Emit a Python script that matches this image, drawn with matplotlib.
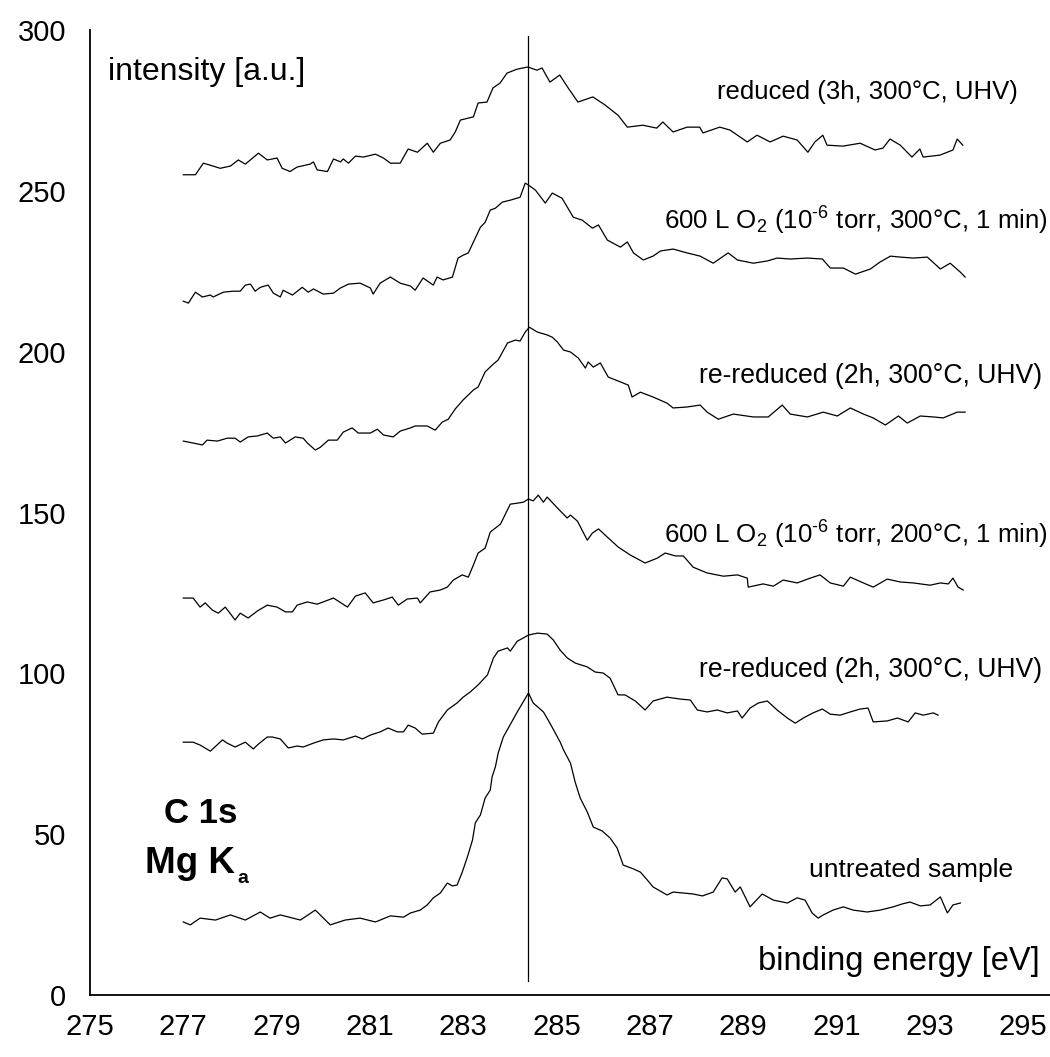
import matplotlib
matplotlib.use("Agg")
import matplotlib.pyplot as plt

plt.rcParams['font.family'] = ['Liberation Sans', 'DejaVu Sans']
plt.rcParams['mathtext.fontset'] = 'custom'
plt.rcParams['mathtext.rm'] = 'Liberation Sans'
plt.rcParams['mathtext.it'] = 'Liberation Sans:italic'
plt.rcParams['mathtext.bf'] = 'Liberation Sans:bold'

# ---------------- data (binding energy [eV], intensity [a.u.]) ----------------
e_reduced = [277.00, 277.26, 277.43, 277.64, 277.79, 278.01, 278.18, 278.33, 278.61, 278.80,
             279.01, 279.12, 279.29, 279.44, 279.72, 279.79, 279.87, 280.09, 280.22, 280.37,
             280.43, 280.54, 280.69, 280.86, 281.12, 281.29, 281.44, 281.65, 281.82, 282.02,
             282.23, 282.36, 282.51, 282.72, 282.83, 282.94, 283.22, 283.32, 283.51, 283.64,
             283.79, 283.94, 284.15, 284.28, 284.39, 284.58, 284.69, 284.86, 285.07, 285.25,
             285.46, 285.78, 286.04, 286.32, 286.52, 286.85, 287.15, 287.28, 287.50, 287.80,
             288.07, 288.14, 288.50, 288.72, 289.09, 289.30, 289.58, 289.86, 290.16, 290.39,
             290.54, 290.71, 290.80, 291.14, 291.51, 291.83, 292.00, 292.15, 292.37, 292.62,
             292.79, 292.86, 293.22, 293.50, 293.59, 293.71]
i_reduced = [255.0, 255.0, 258.6, 257.7, 257.0, 257.7, 259.6, 258.3, 261.7, 259.6,
             260.2, 257.0, 256.0, 257.4, 258.3, 259.0, 256.5, 256.0, 259.9, 259.0,
             259.9, 258.6, 260.8, 260.5, 261.4, 260.2, 258.6, 258.6, 263.0, 262.0,
             264.8, 262.0, 264.8, 265.8, 268.3, 272.0, 273.0, 277.3, 277.6, 282.0,
             283.5, 286.6, 287.8, 288.2, 288.5, 287.5, 288.2, 283.8, 286.0, 282.0,
             277.6, 279.2, 276.7, 273.5, 269.8, 270.4, 269.5, 271.4, 268.3, 269.8,
             269.8, 268.0, 269.8, 268.9, 265.2, 267.3, 265.2, 267.0, 265.8, 262.0,
             265.2, 267.3, 264.2, 263.9, 264.8, 262.7, 263.3, 266.1, 264.2, 260.5,
             263.0, 260.5, 261.1, 262.7, 266.1, 264.2]

e_ox300 = [277.00, 277.11, 277.26, 277.41, 277.58, 277.64, 277.86, 278.07, 278.22, 278.33,
           278.44, 278.54, 278.65, 278.82, 278.93, 279.08, 279.14, 279.34, 279.55, 279.68,
           279.79, 280.00, 280.22, 280.37, 280.54, 280.79, 281.01, 281.07, 281.22, 281.44,
           281.65, 281.87, 281.97, 282.14, 282.36, 282.44, 282.57, 282.77, 282.89, 283.00,
           283.11, 283.22, 283.37, 283.47, 283.58, 283.69, 283.84, 284.01, 284.22, 284.33,
           284.40, 284.55, 284.76, 284.91, 285.12, 285.36, 285.55, 285.77, 285.90, 286.09,
           286.37, 286.52, 286.65, 286.86, 287.07, 287.23, 287.50, 287.80, 288.08, 288.36,
           288.68, 288.88, 289.22, 289.52, 289.73, 290.01, 290.38, 290.70, 290.87, 291.15,
           291.41, 291.73, 291.94, 292.16, 292.37, 292.65, 292.95, 293.23, 293.44, 293.66,
           293.76]
i_ox300 = [215.7, 215.1, 218.5, 217.0, 217.6, 217.0, 218.5, 218.8, 218.8, 220.7,
           221.0, 218.8, 220.0, 220.7, 218.2, 217.0, 219.1, 217.6, 220.0, 218.5,
           219.5, 217.9, 218.2, 219.8, 221.0, 221.3, 219.8, 217.9, 221.3, 223.2,
           221.3, 220.4, 219.1, 222.9, 220.7, 223.2, 222.3, 223.2, 229.1, 230.0,
           230.7, 234.1, 238.7, 240.2, 244.0, 244.6, 246.5, 247.1, 248.0, 252.4,
           251.8, 250.2, 246.2, 249.3, 247.7, 241.8, 240.9, 238.4, 239.4, 234.7,
           232.5, 234.1, 230.7, 228.5, 229.7, 231.3, 231.9, 230.7, 229.7, 227.5,
           230.7, 228.5, 227.5, 228.2, 229.1, 228.8, 229.1, 228.8, 226.0, 226.0,
           224.1, 225.7, 227.9, 229.7, 229.4, 229.1, 229.4, 225.7, 227.5, 224.7,
           223.2]

e_rered1 = [277.00, 277.21, 277.41, 277.51, 277.73, 277.94, 278.11, 278.22, 278.39, 278.59,
            278.80, 278.93, 279.08, 279.19, 279.40, 279.57, 279.66, 279.83, 279.94, 280.11,
            280.30, 280.43, 280.62, 280.75, 281.01, 281.16, 281.29, 281.50, 281.65, 281.87,
            281.97, 282.23, 282.40, 282.55, 282.68, 282.83, 283.00, 283.22, 283.32, 283.47,
            283.62, 283.75, 283.95, 284.12, 284.22, 284.33, 284.42, 284.59, 284.80, 284.91,
            285.02, 285.15, 285.30, 285.47, 285.62, 285.68, 285.79, 285.94, 286.11, 286.37,
            286.54, 286.62, 286.80, 287.07, 287.37, 287.50, 287.80, 288.08, 288.23, 288.47,
            288.79, 289.22, 289.54, 289.84, 290.01, 290.38, 290.72, 291.02, 291.30, 291.58,
            291.79, 292.05, 292.33, 292.52, 292.80, 293.08, 293.29, 293.59, 293.76]
i_rered1 = [172.2, 171.6, 171.0, 172.5, 172.2, 173.1, 173.1, 171.9, 173.5, 173.8,
            174.7, 173.1, 173.5, 171.6, 173.5, 173.1, 171.6, 169.4, 170.3, 172.5,
            172.5, 175.0, 176.3, 174.7, 174.7, 175.9, 174.1, 173.5, 175.3, 176.3,
            176.9, 176.9, 175.6, 178.1, 179.0, 182.2, 185.0, 188.1, 189.0, 193.7,
            195.8, 197.4, 202.7, 203.6, 203.3, 206.1, 207.6, 206.1, 205.2, 204.5,
            203.0, 200.5, 199.9, 198.0, 194.9, 196.8, 195.2, 196.5, 192.1, 190.6,
            189.6, 185.9, 187.4, 185.9, 184.0, 182.5, 182.8, 183.4, 181.2, 179.0,
            180.6, 179.7, 179.7, 183.4, 180.6, 179.7, 181.2, 180.0, 182.5, 180.6,
            179.4, 177.2, 180.0, 177.8, 180.0, 179.7, 179.4, 181.2, 181.2]

e_ox200 = [277.00, 277.21, 277.36, 277.47, 277.62, 277.75, 277.90, 278.11, 278.22, 278.39,
           278.59, 278.80, 279.01, 279.19, 279.34, 279.44, 279.66, 279.87, 280.22, 280.52,
           280.69, 280.90, 281.07, 281.29, 281.48, 281.61, 281.80, 282.02, 282.08, 282.29,
           282.51, 282.66, 282.79, 282.98, 283.11, 283.22, 283.32, 283.47, 283.58, 283.80,
           284.01, 284.16, 284.29, 284.40, 284.50, 284.61, 284.72, 284.80, 285.02, 285.23,
           285.30, 285.45, 285.66, 285.77, 285.90, 286.11, 286.32, 286.58, 286.90, 287.16,
           287.33, 287.55, 287.72, 287.93, 288.23, 288.58, 288.88, 289.09, 289.11, 289.43,
           289.65, 289.86, 290.16, 290.44, 290.65, 290.87, 291.15, 291.30, 291.58, 291.79,
           292.09, 292.37, 292.65, 293.01, 293.23, 293.40, 293.50, 293.61, 293.72]
i_ox200 = [123.4, 123.4, 120.6, 121.9, 119.7, 118.7, 120.6, 116.6, 118.7, 117.2,
           119.4, 121.2, 120.6, 119.1, 119.1, 121.2, 122.2, 121.5, 123.4, 120.6,
           124.0, 125.0, 121.9, 122.8, 123.7, 121.2, 123.1, 123.4, 121.9, 125.3,
           125.9, 126.8, 129.0, 130.6, 129.9, 133.7, 137.4, 138.9, 143.9, 146.4,
           152.6, 152.9, 153.2, 154.2, 153.6, 155.4, 153.2, 154.8, 151.4, 148.3,
           149.2, 147.3, 141.4, 143.6, 144.9, 142.1, 139.3, 136.8, 134.3, 135.8,
           137.4, 136.5, 136.5, 133.0, 131.2, 130.2, 130.6, 129.6, 126.8, 127.8,
           127.1, 129.0, 128.1, 129.6, 130.6, 128.1, 127.1, 129.9, 128.1, 126.8,
           129.3, 128.4, 128.1, 127.4, 128.1, 127.8, 129.6, 126.8, 125.9]

e_rered2 = [277.00, 277.21, 277.36, 277.58, 277.84, 277.94, 278.11, 278.33, 278.50, 278.61,
            278.80, 278.91, 279.08, 279.25, 279.44, 279.57, 279.79, 280.00, 280.22, 280.43,
            280.69, 280.84, 281.01, 281.22, 281.39, 281.59, 281.72, 281.82, 281.97, 282.12,
            282.36, 282.47, 282.66, 282.87, 283.00, 283.15, 283.32, 283.52, 283.65, 283.75,
            283.95, 284.01, 284.16, 284.29, 284.40, 284.59, 284.80, 284.93, 285.08, 285.23,
            285.40, 285.66, 285.83, 286.00, 286.15, 286.32, 286.47, 286.69, 286.90, 287.07,
            287.37, 287.65, 287.87, 288.02, 288.23, 288.45, 288.66, 288.88, 288.98, 289.15,
            289.33, 289.52, 289.73, 289.95, 290.12, 290.29, 290.50, 290.70, 290.87, 291.08,
            291.30, 291.51, 291.68, 291.79, 292.09, 292.31, 292.54, 292.69, 292.86, 293.08,
            293.18]
i_rered2 = [78.6, 78.6, 77.7, 75.8, 79.3, 78.3, 77.1, 78.6, 76.5, 78.0,
            80.2, 80.2, 79.6, 76.8, 77.4, 77.1, 78.3, 79.3, 79.6, 79.3,
            80.5, 79.6, 80.8, 81.8, 83.0, 81.8, 81.8, 83.9, 83.0, 81.1,
            81.4, 84.9, 88.6, 90.8, 92.6, 94.2, 96.4, 99.5, 104.8, 106.9,
            107.9, 106.9, 110.0, 111.0, 111.9, 112.5, 112.2, 110.4, 107.2, 104.8,
            103.2, 102.0, 100.4, 100.1, 98.5, 93.3, 93.3, 91.4, 88.6, 91.4,
            92.6, 92.0, 91.7, 88.6, 88.0, 88.6, 87.7, 88.3, 86.1, 89.2,
            90.8, 91.4, 88.6, 86.1, 84.5, 86.1, 87.7, 88.9, 87.3, 87.0,
            88.0, 88.9, 89.2, 84.9, 85.2, 86.1, 84.9, 87.7, 87.0, 87.7,
            87.0]

e_untreated = [277.00, 277.15, 277.36, 277.69, 278.01, 278.33, 278.65, 278.86, 279.08, 279.51,
               279.83, 280.15, 280.47, 280.79, 281.12, 281.44, 281.72, 281.87, 282.08, 282.23,
               282.36, 282.51, 282.66, 282.77, 282.87, 282.98, 283.09, 283.20, 283.26, 283.37,
               283.47, 283.58, 283.62, 283.69, 283.75, 283.86, 284.16, 284.40, 284.50, 284.72,
               284.86, 285.08, 285.15, 285.30, 285.40, 285.51, 285.66, 285.79, 285.98, 286.15,
               286.30, 286.43, 286.65, 286.80, 286.95, 287.07, 287.37, 287.50, 287.72, 287.93,
               288.13, 288.36, 288.55, 288.66, 288.83, 288.94, 289.15, 289.41, 289.65, 289.95,
               290.16, 290.33, 290.48, 290.61, 290.72, 290.93, 291.15, 291.36, 291.66, 291.94,
               292.22, 292.41, 292.58, 292.80, 293.01, 293.23, 293.38, 293.50, 293.66]
i_untreated = [22.7, 21.8, 23.9, 23.3, 24.9, 23.3, 25.8, 23.9, 24.9, 23.3,
               26.4, 21.8, 23.3, 23.9, 22.7, 24.6, 24.2, 25.5, 26.4, 28.0,
               30.2, 31.7, 34.8, 33.9, 34.2, 38.2, 42.9, 48.2, 53.5, 56.0,
               61.2, 63.7, 67.8, 70.9, 75.2, 80.2, 88.0, 93.9, 90.8, 88.0,
               84.5, 78.6, 76.2, 72.1, 66.2, 61.2, 56.9, 52.2, 51.0, 48.8,
               45.7, 40.4, 39.2, 38.2, 35.7, 33.6, 31.1, 32.0, 31.7, 31.4,
               30.8, 32.0, 36.4, 36.1, 32.0, 33.6, 27.4, 31.4, 29.5, 28.6,
               30.2, 29.5, 25.5, 23.9, 24.9, 26.4, 27.4, 26.4, 25.8, 26.4,
               27.4, 28.3, 28.9, 27.7, 28.0, 30.5, 25.5, 28.0, 28.6]

peak_position = 284.4
x_ticks = list(range(275, 296, 2))
y_ticks = list(range(0, 301, 50))

series_labels = ["reduced (3h, 300°C, UHV)",
                 r"600 L O$_2$ (10$^{\text{-6}}$ torr, 300°C, 1 min)",
                 "re-reduced (2h, 300°C, UHV)",
                 r"600 L O$_2$ (10$^{\text{-6}}$ torr, 200°C, 1 min)",
                 "re-reduced (2h, 300°C, UHV)",
                 "untreated sample"]

# ---------------- figure ----------------
fig = plt.figure(figsize=(10.5, 10.57), dpi=100)
ax = fig.add_axes([90/1050, 62/1057, 960/1050, 965/1057])

series = [(e_reduced, i_reduced), (e_ox300, i_ox300), (e_rered1, i_rered1),
          (e_ox200, i_ox200), (e_rered2, i_rered2), (e_untreated, i_untreated)]
for e, i in series:
    ax.plot(e, i, color='black', lw=0.9)

ax.plot([peak_position, peak_position], [4.5, 298], color='black', lw=0.9)

ax.set_xlim(275, 295.58)
ax.set_ylim(0, 300)
ax.set_xticks(x_ticks)
ax.set_yticks(y_ticks)
ax.tick_params(axis='both', labelsize=21, length=0)
ax.tick_params(axis='y', pad=17)
ax.tick_params(axis='x', pad=13)
for s in ['top', 'right']:
    ax.spines[s].set_visible(False)
for s in ['left', 'bottom']:
    ax.spines[s].set_linewidth(1.3)

# series labels (right edge x, baseline y)
label_pos = [(294.89, 278.5), (295.54, 237.8), (295.41, 190.2),
             (295.54, 140.2), (295.41, 98.8), (294.79, 36.7)]
label_size = [18.5, 18.6, 19.2, 18.6, 19.2, 19]
for txt, (x, y), fs in zip(series_labels, label_pos, label_size):
    ax.text(x, y, txt, ha='right', va='baseline', fontsize=fs, clip_on=False)

ax.text(275.39, 284.4, "intensity [a.u.]", ha='left', va='baseline', fontsize=23)
ax.text(295.36, 7.8, "binding energy [eV]", ha='right', va='baseline', fontsize=23.5)
ax.text(277.38, 53.5, "C 1s", ha='center', va='baseline', fontsize=25, fontweight='bold')
ax.text(278.11, 37.9, "Mg K", ha='right', va='baseline', fontsize=26.5, fontweight='bold')
ax.text(278.15, 34.9, "a", ha='left', va='baseline', fontsize=14, fontweight='bold')

fig.savefig("out.png", dpi=100)
